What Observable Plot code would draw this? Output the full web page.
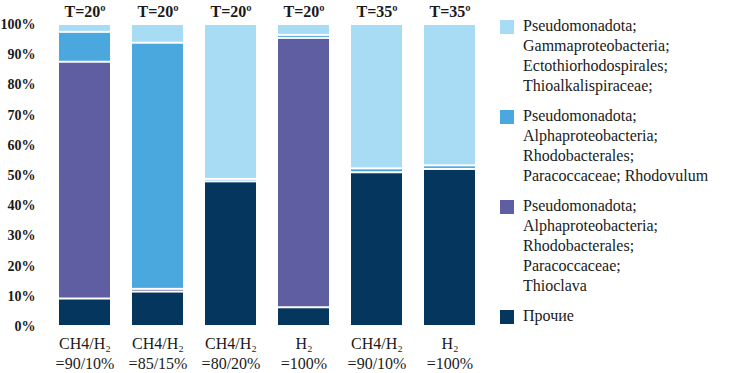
<!DOCTYPE html>
<html>
<head>
<meta charset="utf-8">
<script src="https://cdn.jsdelivr.net/npm/d3@7"></script>
<script src="https://cdn.jsdelivr.net/npm/@observablehq/plot@0.6"></script>
<style>
  html, body { margin: 0; padding: 0; background: #fff; }
  #wrap { position: relative; width: 737px; height: 373px; font-family: "Liberation Serif", "Tinos", "Times New Roman", "DejaVu Serif", serif; color: #1a1a1a; }
  #legend { position: absolute; left: 500px; top: 16px; }
  .item { position: relative; padding-left: 23px; margin-bottom: 10px; font-size: 16px; line-height: 20px; }
  .sw { position: absolute; left: 0; top: 4px; width: 14px; height: 14px; }
</style>
</head>
<body>
<div id="wrap"></div>
<script>
// Samples (bars) and their labels
const samples = ["s1", "s2", "s3", "s4", "s5", "s6"];
const temps = ["T=20º", "T=20º", "T=20º", "T=20º", "T=35º", "T=35º"];
const conditions = ["CH4/H₂\n=90/10%", "CH4/H₂\n=85/15%", "CH4/H₂\n=80/20%", "H₂\n=100%", "CH4/H₂\n=90/10%", "H₂\n=100%"];

// Taxa, in stack order (bottom to top)
const taxa = [
  "Прочие",
  "Pseudomonadota; Alphaproteobacteria; Rhodobacterales; Paracoccaceae; Thioclava",
  "Pseudomonadota; Alphaproteobacteria; Rhodobacterales; Paracoccaceae; Rhodovulum",
  "Pseudomonadota; Gammaproteobacteria; Ectothiorhodospirales; Thioalkalispiraceae;"
];
const legendLines = [
  ["Прочие"],
  ["Pseudomonadota;", "Alphaproteobacteria;", "Rhodobacterales;", "Paracoccaceae;", "Thioclava"],
  ["Pseudomonadota;", "Alphaproteobacteria;", "Rhodobacterales;", "Paracoccaceae; Rhodovulum"],
  ["Pseudomonadota;", "Gammaproteobacteria;", "Ectothiorhodospirales;", "Thioalkalispiraceae;"]
];
const colors = ["#04365e", "#5f5ea3", "#4aa8de", "#a8dcf5"];

// Relative abundance, % (per sample)
const prochie    = [9.1, 11.4, 47.9, 6.2, 50.9, 52.0];
const thioclava  = [78.4, 0.9, 0.0, 89.2, 0.0, 0.0];
const rhodovulum = [9.9, 81.5, 0.8, 1.0, 1.3, 1.2];
const gamma      = [2.6, 6.2, 51.3, 3.6, 47.8, 46.8];

const yTicks = [0, 10, 20, 30, 40, 50, 60, 70, 80, 90, 100];

const series = [prochie, thioclava, rhodovulum, gamma];
const table = [];
series.forEach((vals, t) => {
  vals.forEach((v, i) => table.push({sample: samples[i], taxon: taxa[t], value: v}));
});

const serif = "'Liberation Serif', Tinos, 'Times New Roman', 'DejaVu Serif', serif";

const chart = Plot.plot({
  width: 737,
  height: 373,
  marginLeft: 35,
  marginRight: 237,
  marginTop: 24,
  marginBottom: 47,
  style: {fontFamily: serif, background: "white", color: "#1a1a1a"},
  x: {domain: samples, padding: 0.3, axis: null, label: null},
  y: {domain: [0, 100], axis: null, label: null},
  color: {domain: taxa, range: colors},
  marks: [
    Plot.barY(table, Plot.stackY({order: taxa}, {
      x: "sample", y: "value", fill: "taxon", insetTop: 1, insetBottom: 1
    })),
    Plot.axisY({ticks: yTicks, tickFormat: d => d + "%", tickSize: 0, tickPadding: 0, label: null,
      fontSize: 14, fontWeight: "bold", fontFamily: serif}),
    Plot.axisX({anchor: "top", tickFormat: d => temps[samples.indexOf(d)], tickSize: 0, tickPadding: 8, label: null,
      fontSize: 16, fontWeight: "bold", fontFamily: serif}),
    Plot.axisX({anchor: "bottom", tickFormat: d => conditions[samples.indexOf(d)], tickSize: 0, tickPadding: 8, label: null,
      fontSize: 16, lineHeight: 1.25, fontFamily: serif})
  ]
});

const wrap = document.getElementById("wrap");
wrap.appendChild(chart);

const legend = document.createElement("div");
legend.id = "legend";
// legend order: top to bottom as in figure
[3, 2, 1, 0].forEach(t => {
  const item = document.createElement("div");
  item.className = "item";
  const sw = document.createElement("span");
  sw.className = "sw";
  sw.style.background = colors[t];
  item.appendChild(sw);
  legendLines[t].forEach(line => {
    const d = document.createElement("div");
    d.textContent = line;
    item.appendChild(d);
  });
  legend.appendChild(item);
});
wrap.appendChild(legend);
</script>
</body>
</html>
